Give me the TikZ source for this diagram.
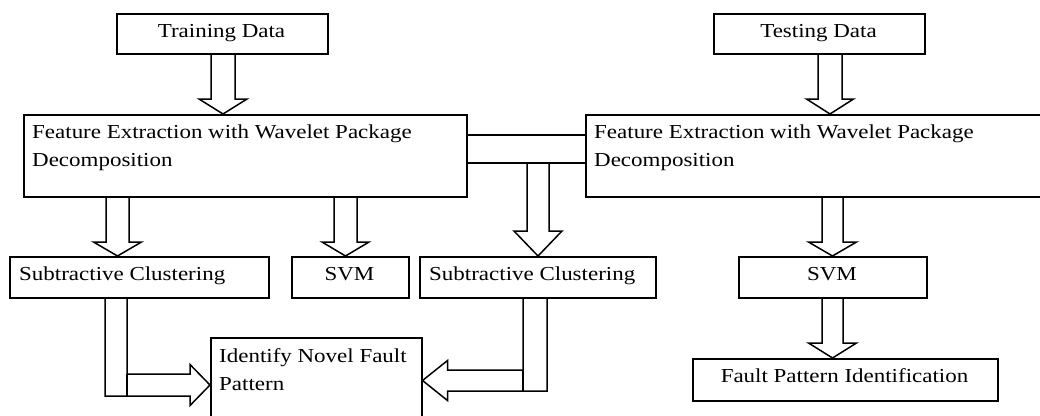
\documentclass[tikz,border=0pt]{standalone}
\usepackage{fontspec}
\setmainfont[FakeStretch=1.16]{Liberation Serif}
\usetikzlibrary{calc}
\newcommand\vblk[6]{%
\draw[blk] ($(#1 |- #2)+(-#4,0)$) -- ($(#1 |- #3)+(-#4,-#6)$) -- ($(#1 |- #3)+(-#5,-#6)$) -- (#1 |- #3) -- ($(#1 |- #3)+(#5,-#6)$) -- ($(#1 |- #3)+(#4,-#6)$) -- ($(#1 |- #2)+(#4,0)$);}
\begin{document}
\begin{tikzpicture}[x=1pt,y=-1pt,
  box/.style={draw, line width=1.5pt, inner sep=0pt, anchor=north west},
  lbl/.style={inner sep=0pt, font=\fontsize{19.8}{28}\selectfont},
  blk/.style={draw, line width=1.5pt, line join=miter},
  ln/.style={draw, line width=1.5pt}]
\clip (0,0) rectangle (1040,415);
\fill[white] (0,0) rectangle (1040,415);
% boxes
\node[box, minimum width=211pt, minimum height=40pt] (td) at (116,13) {};
\node[box, minimum width=211pt, minimum height=40pt] (ts) at (713,13) {};
\node[box, minimum width=443pt, minimum height=82pt] (fe1) at (23,114) {};
\node[box, minimum width=465pt, minimum height=82pt] (fe2) at (585,114) {};
\node[box, minimum width=259pt, minimum height=41pt] (sc1) at (9,256) {};
\node[box, minimum width=117pt, minimum height=41pt] (svm1) at (291,256) {};
\node[box, minimum width=236pt, minimum height=41pt] (sc2) at (419,256) {};
\node[box, minimum width=188pt, minimum height=41pt] (svm2) at (738,256) {};
\node[box, minimum width=211pt, minimum height=95pt] (inf) at (210,337) {};
\node[box, minimum width=305pt, minimum height=42pt] (fpi) at (692,358) {};
% labels
\node[lbl, anchor=base] (tdl) at (221.5,37) {Training Data};
\node[lbl, anchor=base] (tsl) at (818.5,37) {Testing Data};
\node[lbl, anchor=north west, align=left] (fe1l) at (32,124.5) {Feature Extraction with Wavelet Package\\Decomposition};
\node[lbl, anchor=north west, align=left] (fe2l) at (594,124.5) {Feature Extraction with Wavelet Package\\Decomposition};
\node[lbl, anchor=base west] (sc1l) at (19,280) {Subtractive Clustering};
\node[lbl, anchor=base] (svm1l) at (349.5,280) {SVM};
\node[lbl, anchor=base west] (sc2l) at (429,280) {Subtractive Clustering};
\node[lbl, anchor=base] (svm2l) at (832,280) {SVM};
\node[lbl, anchor=north west, align=left] (infl) at (219,348.5) {Identify Novel Fault\\Pattern};
\node[lbl, anchor=base] (fpil) at (844.5,382) {Fault Pattern Identification};
% helper coordinates
\coordinate (xa) at (223,0);
\coordinate (xb) at (830,0);
\coordinate (xc) at (117.5,0);
\coordinate (xd) at (345.5,0);
\coordinate (xm) at (538,0);
\coordinate (xe) at (832.5,0);
\coordinate (xl) at (116,0);
\coordinate (xr) at (535,0);
\coordinate (c1) at (0,135);
\coordinate (c2) at (0,163);
\coordinate (yl) at (0,385);
\coordinate (yr) at (0,380.5);
% connector between the two feature-extraction boxes
\draw[ln] (fe1.east |- c1) -- (fe2.west |- c1);
\draw[ln] (fe1.east |- c2) -- (fe2.west |- c2);
% vertical block arrows
\vblk{xa}{td.south}{fe1.north}{12}{24}{15}
\vblk{xb}{ts.south}{fe2.north}{12}{23.5}{15}
\vblk{xc}{fe1.south}{sc1.north}{11.5}{24}{14}
\vblk{xd}{fe1.south}{svm1.north}{11.5}{23.5}{14}
\vblk{xm}{c2}{sc2.north}{11}{24}{25}
\vblk{xe}{fe2.south}{svm2.north}{10.5}{24}{14}
\vblk{xe}{svm2.south}{fpi.north}{10.5}{24}{15}
% bent block arrow from left clustering
\draw[blk] ($(xl |- sc1.south)+(-11,0)$) -- ($(xl |- yl)+(-11,11)$) -- ($(inf.west |- yl)+(-20,11)$) -- ($(inf.west |- yl)+(-20,20.5)$) -- (inf.west |- yl) -- ($(inf.west |- yl)+(-20,-20.5)$) -- ($(inf.west |- yl)+(-20,-11)$) -- ($(xl |- yl)+(11,-11)$) -- ($(xl |- sc1.south)+(11,0)$);
\draw[ln] ($(xl |- yl)+(11,-11)$) -- ($(xl |- yl)+(11,11)$);
% bent block arrow from middle clustering
\draw[blk] ($(xr |- sc2.south)+(12,0)$) -- ($(xr |- yr)+(12,10.5)$) -- ($(inf.east |- yr)+(25,10.5)$) -- ($(inf.east |- yr)+(25,20)$) -- (inf.east |- yr) -- ($(inf.east |- yr)+(25,-20)$) -- ($(inf.east |- yr)+(25,-10.5)$) -- ($(xr |- yr)+(-12,-10.5)$) -- ($(xr |- sc2.south)+(-12,0)$);
\draw[ln] ($(xr |- yr)+(-12,-10.5)$) -- ($(xr |- yr)+(-12,10.5)$);
\end{tikzpicture}
\end{document}
